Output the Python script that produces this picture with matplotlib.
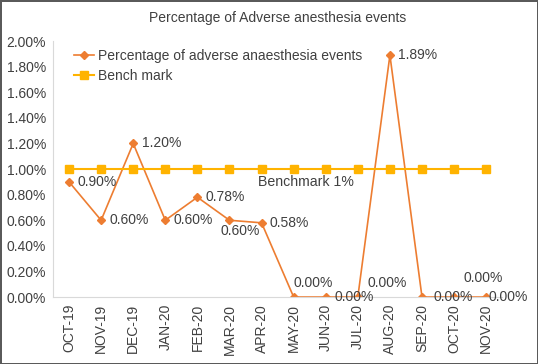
import matplotlib.pyplot as plt
import numpy as np

plt.rcParams['font.family'] = ['Liberation Sans', 'DejaVu Sans']

months = ['OCT-19', 'NOV-19', 'DEC-19', 'JAN-20', 'FEB-20', 'MAR-20', 'APR-20',
          'MAY-20', 'JUN-20', 'JUL-20', 'AUG-20', 'SEP-20', 'OCT-20', 'NOV-20']
adverse = [0.0090, 0.0060, 0.0120, 0.0060, 0.0078, 0.0060, 0.0058,
           0.0, 0.0, 0.0, 0.0189, 0.0, 0.0, 0.0]
benchmark = [0.01] * len(months)

# where each data label sits relative to its point (points)
label_offsets = [(6, 0), (6, 0), (6, 0), (6, 0), (6, 0), (-6.5, -8), (6, 0),
                 (0, 10), (6, 0), (7, 10), (6, 0), (8, 0), (7, 14), (2, 0)]

x = np.arange(len(months))

fig = plt.figure(figsize=(5.38, 3.64), dpi=100, edgecolor='#5a5a5a', linewidth=2)
ax = fig.add_axes([0.0985, 0.184, 0.835, 0.703])

ax.plot(x, adverse, color='#ED7D31', lw=1.2, marker='D', ms=4,
        label='Percentage of adverse anaesthesia events')
ax.plot(x, benchmark, color='#FFB300', lw=1.5, marker='s', ms=6,
        label='Bench mark')

for xi, v, off in zip(x, adverse, label_offsets):
    ax.annotate('{:.2f}%'.format(v * 100), xy=(xi, v), xytext=off,
                textcoords='offset points', ha='left', va='center',
                fontsize=10, color='#404040')

ax.annotate('Benchmark 1%', xy=(7, 0.01), xytext=(-25.5, -9),
            textcoords='offset points', ha='left', va='center',
            fontsize=10.2, color='#404040')

ax.set_xlim(-0.5, len(months) - 0.5)
ax.set_ylim(0, 0.02)
ax.set_yticks(np.arange(0, 0.0201, 0.002))
ax.set_yticklabels(['{:.2f}%'.format(t * 100) for t in np.arange(0, 0.0201, 0.002)])
ax.set_xticks(x)
ax.set_xticklabels(months, rotation=90)
ax.tick_params(length=0, labelsize=10, colors='#404040', pad=5)

for s in ['top', 'right']:
    ax.spines[s].set_visible(False)
for s in ['left', 'bottom']:
    ax.spines[s].set_color('#d9d9d9')

ax.set_title('Percentage of Adverse anesthesia events', fontsize=10,
             color='#404040', pad=14)

ax.legend(loc='upper left', bbox_to_anchor=(0.02, 1.02), frameon=False,
          fontsize=10, labelcolor='#404040', handlelength=1.4,
          handletextpad=0.3, labelspacing=0.45)

fig.savefig('out.png', dpi=100)
